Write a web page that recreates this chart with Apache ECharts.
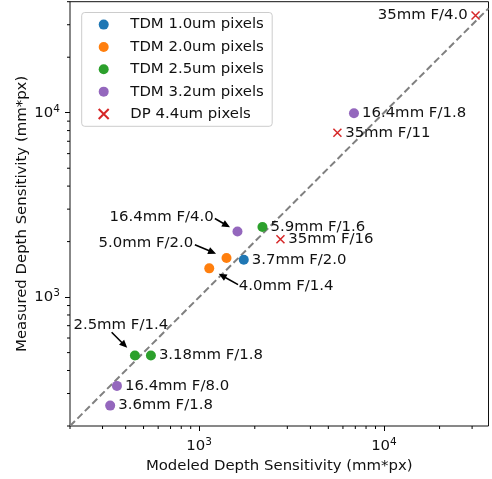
<!DOCTYPE html>
<html>
<head>
<meta charset="utf-8">
<script src="https://cdn.jsdelivr.net/npm/echarts@6/dist/echarts.min.js"></script>
<style>
  html, body { margin: 0; padding: 0; background: #fff; }
  #chart { width: 492px; height: 479px; }
</style>
</head>
<body>
<div id="chart"></div>
<script>
const FONT = 'DejaVu Sans';

// axis limits and ticks
const xLimits = [200, 36800];
const yLimits = [200, 40000];
const majorTicks = [1000, 10000];
const minorTicks = [200, 300, 400, 500, 600, 700, 800, 900,
  2000, 3000, 4000, 5000, 6000, 7000, 8000, 9000, 20000, 30000, 40000];

// y = x reference line
const diagX = [200, 36800];
const diagY = [200, 36800];

// series (modeled, measured, label)
const tdm10X = [1744];
const tdm10Y = [1596];
const tdm10Labels = ['3.7mm F/2.0'];

const tdm20X = [1406, 1134];
const tdm20Y = [1629, 1432];
const tdm20Labels = ['', ''];

const tdm25X = [2201, 449, 548];
const tdm25Y = [2400, 482, 482];
const tdm25Labels = ['5.9mm F/1.6', '', '3.18mm F/1.8'];

const tdm32X = [1612, 6883, 359, 330];
const tdm32Y = [2267, 9925, 330, 258];
const tdm32Labels = ['', '16.4mm F/1.8', '16.4mm F/8.0', '3.6mm F/1.8'];

const dpX = [2754, 5600, 31310];
const dpY = [2059, 7786, 33660];
const dpLabels = ['35mm F/16', '35mm F/11', '35mm F/4.0'];

const leftLabels = ['35mm F/4.0'];

// annotations with arrows (point, arrow tail, text centre; data units)
const annLabels = ['16.4mm F/4.0', '5.0mm F/2.0', '4.0mm F/1.4', '2.5mm F/1.4'];
const annX = [1612, 1406, 1134, 449];
const annY = [2267, 1629, 1432, 482];
const annTailX = [1216, 948, 1624, 336];
const annTailY = [2668, 1921, 1168, 645];
const annTextX = [626, 515, 2953, 376.5];
const annTextY = [2721, 1951, 1143, 708];

const seriesNames = ['TDM 1.0um pixels', 'TDM 2.0um pixels', 'TDM 2.5um pixels', 'TDM 3.2um pixels', 'DP 4.4um pixels'];
const colors = ['#1f77b4', '#ff7f0e', '#2ca02c', '#9467bd', '#d62728'];
const crossPath = 'path://M0,0L10,10M10,0L0,10';

const zip = (xs, ys, labels) => xs.map((x, i) => ({
  value: [x, ys[i]],
  name: labels[i],
  label: leftLabels.includes(labels[i]) ? { position: 'left' } : undefined
}));

const pointLabel = {
  show: true,
  position: 'right',
  distance: 3,
  formatter: p => p.name,
  fontFamily: FONT,
  fontSize: 14.9,
  color: '#111'
};

function scatter(name, color, data, cross) {
  return {
    name,
    type: 'scatter',
    z: 3,
    symbol: cross ? crossPath : 'circle',
    symbolSize: cross ? 8 : 10,
    itemStyle: cross
      ? { color: color, borderColor: color, borderWidth: 1.5, opacity: 1 }
      : { color: color, opacity: 1 },
    label: pointLabel,
    emphasis: { disabled: true },
    data
  };
}

const tickLabel = {
  fontFamily: FONT,
  color: '#111',
  formatter: v => '{b|10}{s|' + Math.round(Math.log10(v)) + '}',
  rich: {
    b: { fontFamily: FONT, fontSize: 14.9, lineHeight: 18, color: '#111' },
    s: { fontFamily: FONT, fontSize: 10.5, lineHeight: 11, verticalAlign: 'top', color: '#111' }
  }
};

function logAxis(limits, extra) {
  return Object.assign({
    type: 'log',
    logBase: 10,
    min: limits[0],
    max: limits[1],
    nameMoveOverlap: false,
    axisLine: { show: false },
    splitLine: { show: false },
    minorTick: { show: false }
  }, extra);
}

// minor log ticks drawn outside the plot through the axis scales
function minorTickSeries(dim) {
  return {
    name: 'minor-' + dim,
    type: 'custom',
    silent: true,
    clip: false,
    z: 5,
    renderItem: (params, api) => {
      const v = api.value(0);
      const p = dim === 'x' ? api.coord([v, yLimits[0]]) : api.coord([xLimits[0], v]);
      const shape = dim === 'x'
        ? { x1: p[0], y1: p[1], x2: p[0], y2: p[1] + 3 }
        : { x1: p[0], y1: p[1], x2: p[0] - 3, y2: p[1] };
      return { type: 'line', shape, style: { stroke: '#000', lineWidth: 1 } };
    },
    data: minorTicks.filter(v => v <= (dim === 'x' ? xLimits[1] : yLimits[1])).map(v => [v])
  };
}

const chart = echarts.init(document.getElementById('chart'), null, { renderer: 'canvas' });

chart.setOption({
  animation: false,
  backgroundColor: '#fff',
  grid: {
    left: 70, right: 3.5, top: 1.7, bottom: 52.5,
    show: true, borderColor: '#111', borderWidth: 1, backgroundColor: 'transparent'
  },
  legend: {
    data: seriesNames,
    orient: 'vertical',
    left: 81.7,
    top: 12.5,
    itemWidth: 10,
    itemHeight: 10,
    itemGap: 5.35,
    padding: [3.6, 8.4, 3.8, 16],
    backgroundColor: 'rgba(255,255,255,0.8)',
    borderColor: '#cccccc',
    borderWidth: 1,
    borderRadius: 3,
    selectedMode: false,
    textStyle: { fontFamily: FONT, fontSize: 14.9, lineHeight: 17, color: '#111', padding: [0, 0, 0, 16.6] }
  },
  xAxis: logAxis(xLimits, {
    position: 'bottom',
    name: 'Modeled Depth Sensitivity (mm*px)',
    nameLocation: 'middle',
    nameGap: 33,
    nameTextStyle: { fontFamily: FONT, fontSize: 14.9, color: '#111' },
    axisTick: { show: true, length: 5, customValues: majorTicks, lineStyle: { color: '#000', width: 1 } },
    axisLabel: Object.assign({ margin: 11, customValues: majorTicks }, tickLabel)
  }),
  yAxis: logAxis(yLimits, {
    position: 'left',
    name: 'Measured Depth Sensitivity (mm*px)',
    nameLocation: 'middle',
    nameGap: 40,
    nameTextStyle: { fontFamily: FONT, fontSize: 14.9, color: '#111' },
    axisTick: { show: true, length: 5, customValues: majorTicks, lineStyle: { color: '#000', width: 1 } },
    axisLabel: Object.assign({ margin: 10, customValues: majorTicks }, tickLabel)
  }),
  series: [
    {
      name: 'y=x',
      type: 'line',
      z: 1,
      symbol: 'none',
      silent: true,
      lineStyle: { color: '#808080', width: 2, type: [7, 3.5] },
      data: diagX.map((x, i) => [x, diagY[i]])
    },
    scatter(seriesNames[0], colors[0], zip(tdm10X, tdm10Y, tdm10Labels)),
    scatter(seriesNames[1], colors[1], zip(tdm20X, tdm20Y, tdm20Labels)),
    scatter(seriesNames[2], colors[2], zip(tdm25X, tdm25Y, tdm25Labels)),
    scatter(seriesNames[3], colors[3], zip(tdm32X, tdm32Y, tdm32Labels)),
    scatter(seriesNames[4], colors[4], zip(dpX, dpY, dpLabels), true),
    minorTickSeries('x'),
    minorTickSeries('y'),
    {
      name: 'annotations',
      type: 'custom',
      z: 4,
      silent: true,
      renderItem: (params, api) => {
        const i = params.dataIndex;
        const p = api.coord([annX[i], annY[i]]);
        const t = api.coord([annTailX[i], annTailY[i]]);
        const c = api.coord([annTextX[i], annTextY[i]]);
        const dx = p[0] - t[0], dy = p[1] - t[1];
        const len = Math.sqrt(dx * dx + dy * dy);
        const ux = dx / len, uy = dy / len;
        const nx = -uy, ny = ux;
        const tip = [p[0] - ux * len * 0.33, p[1] - uy * len * 0.33];
        const hl = 8, hw = 3.6, sw = 0.8;
        const b = [tip[0] - ux * hl, tip[1] - uy * hl];
        const pts = [
          [t[0] + nx * sw, t[1] + ny * sw],
          [b[0] + nx * sw, b[1] + ny * sw],
          [b[0] + nx * hw, b[1] + ny * hw],
          tip,
          [b[0] - nx * hw, b[1] - ny * hw],
          [b[0] - nx * sw, b[1] - ny * sw],
          [t[0] - nx * sw, t[1] - ny * sw]
        ];
        return {
          type: 'group',
          children: [
            { type: 'polygon', shape: { points: pts }, style: { fill: '#000' } },
            {
              type: 'text',
              style: {
                text: annLabels[i], x: c[0], y: c[1],
                align: 'center', verticalAlign: 'middle',
                font: '14.9px "' + FONT + '"', fill: '#111'
              }
            }
          ]
        };
      },
      data: annX.map((x, i) => [x, annY[i]])
    }
  ]
});
</script>
</body>
</html>
